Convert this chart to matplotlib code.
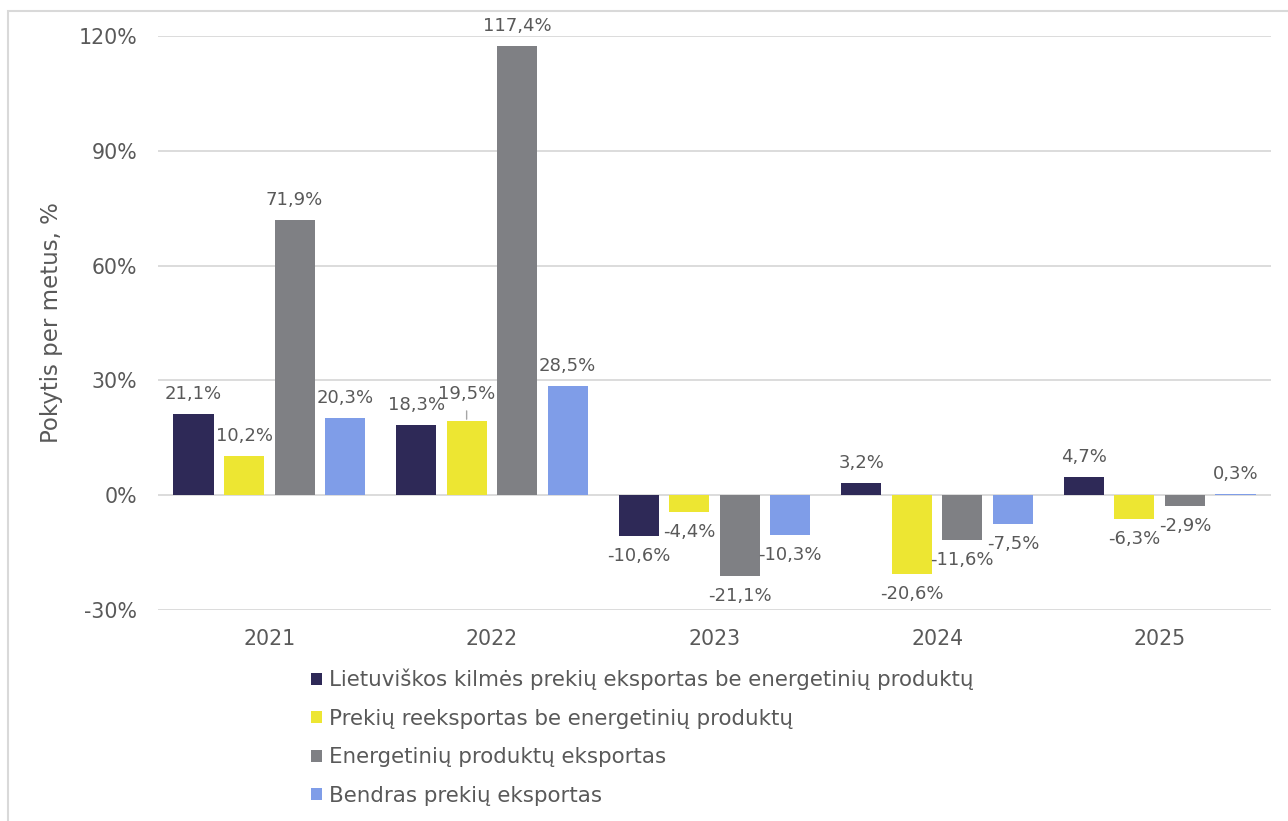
import matplotlib.pyplot as plt
import matplotlib.patches as patches
import numpy as np

years = ['2021', '2022', '2023', '2024', '2025']
lt_origin = [21.1, 18.3, -10.6, 3.2, 4.7]
reexport = [10.2, 19.5, -4.4, -20.6, -6.3]
energy = [71.9, 117.4, -21.1, -11.6, -2.9]
total = [20.3, 28.5, -10.3, -7.5, 0.3]

names = ['Lietuviškos kilmės prekių eksportas be energetinių produktų',
         'Prekių reeksportas be energetinių produktų',
         'Energetinių produktų eksportas',
         'Bendras prekių eksportas']
colors = ['#2e2957', '#ede632', '#7f8084', '#7f9de8']
series = [lt_origin, reexport, energy, total]

txt = '#595959'
grid = '#d9d9d9'

fig = plt.figure(figsize=(12.88, 8.21), dpi=100)
ax = fig.add_axes([158 / 1288, 1 - 610 / 821, 1113 / 1288, 574 / 821])

x = np.arange(len(years))
pitch = 0.227
width = 0.18

# label 19,5% in 2022 is lifted a bit with a leader line
lifted = {(1, 1): 27}

for i, (vals, col, name) in enumerate(zip(series, colors, names)):
    bars = ax.bar(x + (i - 1.5) * pitch, vals, width, color=col, label=name, zorder=3)
    for j, (b, v) in enumerate(zip(bars, vals)):
        off = lifted.get((i, j), 20)
        s = f'{v:.1f}'.replace('.', ',') + '%'
        dy = off if v >= 0 else -off
        kw = {}
        if (i, j) in lifted:
            kw['arrowprops'] = dict(arrowstyle='-', color='#a6a6a6', lw=1,
                                    shrinkA=4, shrinkB=1)
        ax.annotate(s, (b.get_x() + b.get_width() / 2, v), xytext=(0, dy),
                    textcoords='offset pixels', ha='center', va='center',
                    fontsize=13, color=txt, annotation_clip=False, **kw)

ax.set_xlim(-0.5, len(years) - 0.5)
ax.set_ylim(-30, 120)
ax.set_yticks(range(-30, 121, 30))
ax.set_yticklabels([f'{t}%' for t in range(-30, 121, 30)])
ax.set_xticks(x)
ax.set_xticklabels(years)
ax.yaxis.grid(True, color=grid, lw=1.3)
ax.set_axisbelow(True)
for sp in ax.spines.values():
    sp.set_visible(False)
ax.tick_params(axis='both', length=0, labelsize=14.8, colors=txt)
ax.tick_params(axis='y', pad=15)
ax.tick_params(axis='x', pad=14)

ax.set_ylabel('Pokytis per metus, %', fontsize=16.5, color=txt)
ax.yaxis.set_label_coords(-0.0854, 0.5)

fig.legend(loc='upper left', bbox_to_anchor=(311 / 1288, 1 - 669 / 821),
           frameon=False, fontsize=15.4, labelcolor=txt, borderpad=0,
           borderaxespad=0, handlelength=0.5, handleheight=0.5,
           handletextpad=0.35, labelspacing=0.86)

frame = patches.Rectangle((8 / 1288, -0.05), 1.2, 0.05 + 1 - 11 / 821,
                          transform=fig.transFigure, fill=False,
                          edgecolor=grid, lw=1.5)
fig.patches.append(frame)

fig.savefig('out.png', dpi=100, facecolor='white')
